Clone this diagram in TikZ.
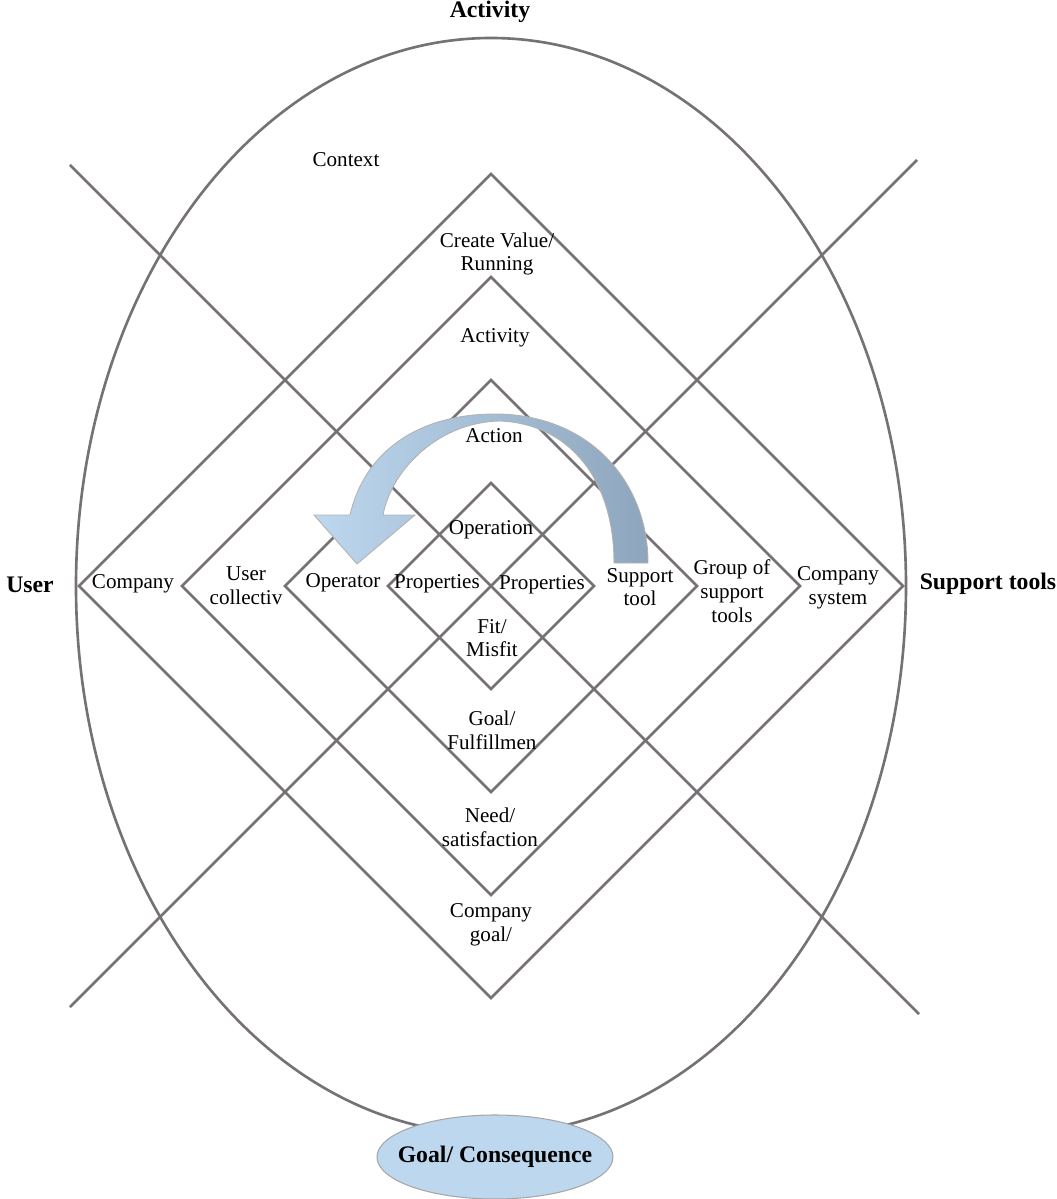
\documentclass[tikz,border=0pt]{standalone}
\usepackage{fontspec}
\setmainfont{Liberation Serif}
\usetikzlibrary{shapes.geometric}
\definecolor{linegray}{RGB}{118,113,116}
\definecolor{paleblue}{RGB}{189,215,238}
\definecolor{steelblue}{RGB}{141,166,190}
\tikzset{
  frame/.style={draw=linegray,line width=1.5pt},
  lbl/.style={font=\fontsize{12}{13.5}\selectfont,align=center,inner sep=1pt},
  head/.style={font=\fontsize{13.5}{15}\selectfont\bfseries,inner sep=1pt}
}
\begin{document}
\begin{tikzpicture}
\useasboundingbox (-9.82,-12.26) rectangle (11.32,11.72);
\draw[frame] (0,0) ellipse[x radius=8.3,y radius=10.96];
\draw[frame] (-8.42,8.42)--(8.56,-8.56);
\draw[frame] (8.52,8.52)--(-8.42,-8.42);
\draw[frame] (0,8.24)--(8.24,0)--(0,-8.24)--(-8.24,0)--cycle;
\draw[frame] (0,6.18)--(6.18,0)--(0,-6.18)--(-6.18,0)--cycle;
\draw[frame] (0,4.12)--(4.12,0)--(0,-4.12)--(-4.12,0)--cycle;
\draw[frame] (0,2.06)--(2.06,0)--(0,-2.06)--(-2.06,0)--cycle;
% curved arrow from support tool to operator
\shadedraw[left color=paleblue,middle color=paleblue!60!steelblue,right color=steelblue,draw=gray!60,line width=0.5pt]
  (3.14,0.46) .. controls (3.14,2.1) and (1.95,3.44) .. (0.08,3.44)
  .. controls (-1.42,3.44) and (-2.52,2.72) .. (-2.82,1.42)
  -- (-3.54,1.42) -- (-2.68,0.44) -- (-1.52,1.42) -- (-2.16,1.42)
  .. controls (-1.98,2.36) and (-1.02,3.28) .. (0.18,3.30)
  .. controls (1.58,3.24) and (2.46,2.12) .. (2.46,0.46) -- cycle;
\node[head] (activity) at (-0.02,11.48) {Activity};
\node[head] (user) at (-9.22,0.02) {User};
\node[head] (tools) at (9.94,0.04) {Support tools};
\node[lbl] (context) at (-2.9,8.52) {Context};
\node[lbl] (value) at (0.12,6.64) {Create Value/\\Running};
\node[lbl] (act) at (0.08,4.96) {Activity};
\node[lbl] (action) at (0.06,3.0) {Action};
\node[lbl] (operation) at (0,1.12) {Operation};
\node[lbl] (operator) at (-2.96,0.06) {Operator};
\node[lbl] (propl) at (-1.08,0.04) {Properties};
\node[lbl] (propr) at (1.02,0.02) {Properties};
\node[lbl] (stool) at (2.98,-0.02) {Support\\tool};
\node[lbl] (group) at (4.82,-0.1) {Group of\\support\\tools};
\node[lbl] (csystem) at (6.94,-0.04) {Company\\system};
\node[lbl] (company) at (-7.16,0.04) {Company};
\node[lbl] (collectiv) at (-4.9,0) {User\\collectiv};
\node[lbl] (fit) at (0.02,-1.04) {Fit/\\Misfit};
\node[lbl] (fulfil) at (0.02,-2.88) {Goal/\\Fulfillmen};
\node[lbl] (need) at (-0.02,-4.82) {Need/\\satisfaction};
\node[lbl] (cgoal) at (0,-6.78) {Company\\goal/};
\node[ellipse,draw=gray!70,fill=paleblue,line width=0.6pt,inner sep=0pt,minimum width=4.72cm,minimum height=1.68cm,
  label={[head]center:Goal/ Consequence}] (goal) at (0.08,-11.42) {};
\end{tikzpicture}
\end{document}
